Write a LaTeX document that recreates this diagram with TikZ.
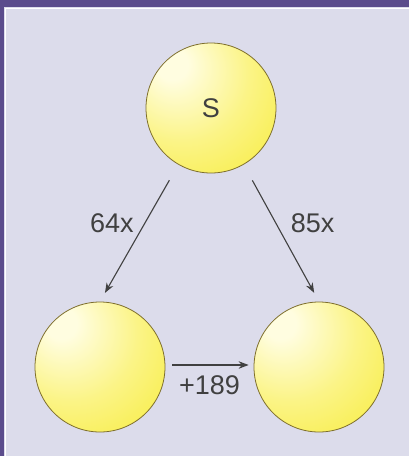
\documentclass[tikz,border=0pt]{standalone}
\usepackage{fontspec}
\setmainfont{Liberation Sans}
\usetikzlibrary{positioning, arrows.meta}

\definecolor{framepurple}{HTML}{5B4C8C}
\definecolor{panelbg}{HTML}{DCDCEB}
\definecolor{ballhi}{HTML}{FFFDE0}
\definecolor{ballmid}{HTML}{FBF486}
\definecolor{ballyel}{HTML}{F7EC3E}
\definecolor{ballrim}{HTML}{7D6E2C}
\definecolor{inkgray}{HTML}{404040}

\pgfdeclareradialshading{ballshade}{\pgfpoint{-16bp}{18bp}}{%
  color(0bp)=(ballhi); color(6bp)=(ballhi); color(26bp)=(ballmid);
  color(48bp)=(ballyel); color(90bp)=(ballyel)}

\begin{document}
\begin{tikzpicture}[
            x=1pt, y=-1pt,
            >={Stealth[length=10pt, width=7.5pt]},
            % Styles
            sphere/.style={circle, draw=ballrim, line width=0.8pt,
              shading=ballshade, minimum size=130pt, inner sep=0pt,
              font=\fontsize{27}{31}\selectfont, text=inkgray},
            lbl/.style={font=\fontsize{27}{31}\selectfont, text=inkgray},
            link/.style={->, draw=inkgray, line width=1.1pt}
          ]
          \useasboundingbox (0,0) rectangle (409,456);
          % 1. Frame and panel
          \fill[framepurple] (0,0) rectangle (409,456);
          \fill[panelbg] (4,7) rectangle (409,456);
          \draw[white, line width=1pt] (5,456) -- (5,8) -- (409,8);
          % 2. Spheres
          \node[sphere] (ballS) at (211,108) {S};
          \node[sphere] (ballL) at (100,367) {};
          \node[sphere] (ballR) at (319,367) {};
          % --- Connections ---
          \draw[link, shorten <=18pt, shorten >=10pt] (ballS.240) --
            node[lbl, pos=0.43, left=7pt] {64x} (ballL.north);
          \draw[link, shorten <=18pt, shorten >=10pt] (ballS.300) --
            node[lbl, pos=0.43, right=11pt] {85x} (ballR.north);
          \draw[link, shorten <=7pt, shorten >=5pt] ([yshift=2pt]ballL.east) --
            node[lbl, below=7pt] {+189} ([yshift=2pt]ballR.west);
        \end{tikzpicture}
\end{document}
